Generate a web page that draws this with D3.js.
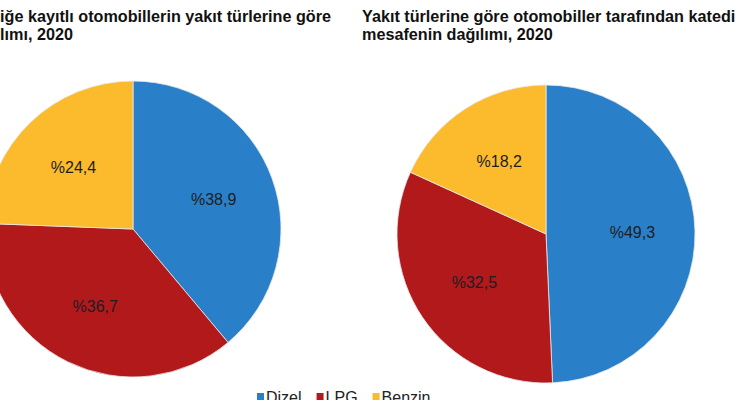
<!DOCTYPE html>
<html>
<head>
<meta charset="utf-8">
<script src="https://cdn.jsdelivr.net/npm/d3@7"></script>
<style>
  html, body { margin: 0; padding: 0; background: #fff; overflow: hidden; }
  svg { display: block; }
</style>
</head>
<body>
<svg id="chart" width="740" height="400"></svg>
<script>
const categories = ["Dizel", "LPG", "Benzin"];
const registeredShare = [38.9, 36.7, 24.4];
const distanceShare = [49.3, 32.5, 18.2];
const colors = ["#2a80c8", "#b2191b", "#fbbb2c"];
const leftTitle = ["iğe kayıtlı otomobillerin yakıt türlerine göre", "lımı, 2020"];
const rightTitle = ["Yakıt türlerine göre otomobiller tarafından katedi", "mesafenin dağılımı, 2020"];

const svg = d3.select("#chart");
const font = "'Liberation Sans', Arial, sans-serif";

const color = d3.scaleOrdinal().domain(categories).range(colors);

function drawPie(values, cx, cy, r) {
  const data = categories.map((c, i) => ({ cat: c, value: values[i] }));
  const pie = d3.pie().value(d => d.value).sort(null);
  const arc = d3.arc().innerRadius(0).outerRadius(r);
  const labelArc = d3.arc().innerRadius(0).outerRadius(r * 1.16);
  const g = svg.append("g").attr("transform", `translate(${cx},${cy})`);
  const arcs = pie(data);
  g.selectAll("path").data(arcs).join("path")
    .attr("d", arc)
    .attr("fill", d => color(d.data.cat))
    .attr("stroke", "#e8e8e8")
    .attr("stroke-width", 0.8);
  g.selectAll("text").data(arcs).join("text")
    .attr("transform", d => `translate(${labelArc.centroid(d)})`)
    .attr("text-anchor", "middle")
    .attr("dy", "0.36em")
    .attr("font-family", font)
    .attr("font-size", 16)
    .attr("fill", "#1d1d24")
    .text(d => "%" + d.data.value.toFixed(1).replace(".", ","));
}

drawPie(registeredShare, 133, 229, 148);
drawPie(distanceShare, 546, 234, 149);

function drawTitle(lines, x) {
  const t = svg.append("text")
    .attr("font-family", font)
    .attr("font-size", 16.2)
    .attr("font-weight", "bold")
    .attr("fill", "#111");
  lines.forEach((l, i) => {
    t.append("tspan").attr("x", x).attr("y", 22 + i * 18).text(l);
  });
}
drawTitle(leftTitle, 0);
drawTitle(rightTitle, 362);

// legend
const legend = svg.append("g");
let lx = 257;
categories.forEach(c => {
  legend.append("rect").attr("x", lx).attr("y", 393).attr("width", 7).attr("height", 8)
    .attr("fill", color(c));
  const t = legend.append("text").attr("x", lx + 9).attr("y", 403)
    .attr("font-family", font).attr("font-size", 16).attr("fill", "#222").text(c);
  lx += 9 + t.node().getComputedTextLength() + 15;
});
</script>
</body>
</html>
